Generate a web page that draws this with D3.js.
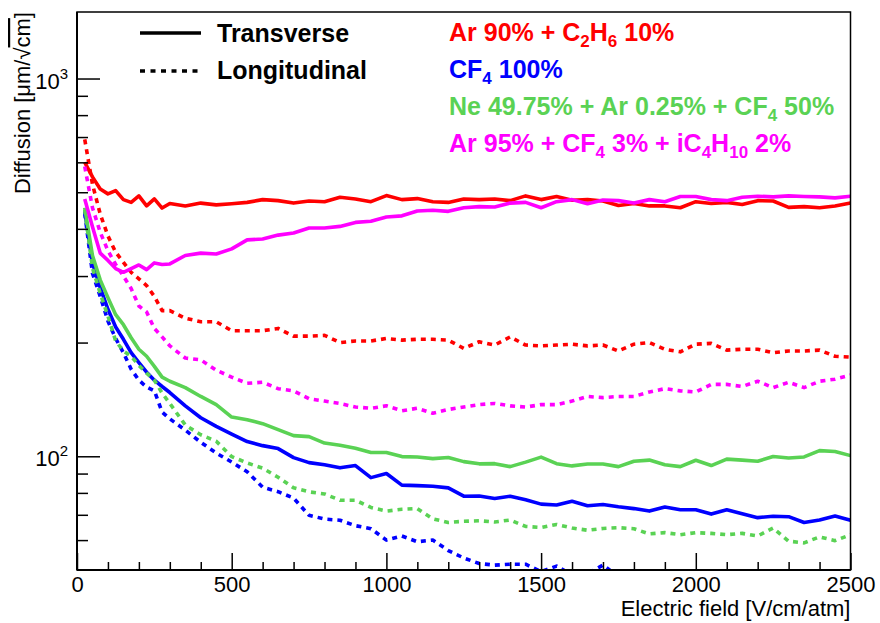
<!DOCTYPE html>
<html>
<head>
  <meta charset="UTF-8">
  <title>Diffusion vs Electric field</title>
  <style>
    body { margin: 0; background: #fff; }
    svg { font-family: "Liberation Sans", Arial, Helvetica, sans-serif; }
  </style>
</head>
<body>

  <svg id="chart" width="880" height="623"></svg>

  <script src="https://cdn.jsdelivr.net/npm/d3@7/dist/d3.min.js"></script>
  <script>

    // electric field points [V/cm/atm], shared by every curve
    var field = [25, 50, 75, 100, 125, 150, 175, 200, 225, 250, 275, 300,
      350, 400, 450, 500, 550, 600, 650, 700, 750, 800, 850, 900, 950, 1000,
      1050, 1100, 1150, 1200, 1250, 1300, 1350, 1400, 1450, 1500, 1550, 1600,
      1650, 1700, 1750, 1800, 1850, 1900, 1950, 2000, 2050, 2100, 2150, 2200,
      2250, 2300, 2350, 2400, 2450, 2500];

    // Ar 90% + C2H6 10%
    var arEthTrans = [600, 549, 510, 495, 505, 478, 470, 489, 460, 480, 454, 467,
      460, 468, 463, 466, 470, 478, 475, 468, 474, 472, 485, 480, 472, 490,
      478, 481, 472, 470, 480, 478, 480, 475, 489, 478, 487, 476, 478, 474,
      461, 467, 460, 460, 455, 472, 467, 470, 464, 475, 474, 456, 458, 455, 460, 468];
    var arEthLong = [690, 525, 438, 383, 347, 326, 307, 295, 283, 265, 243, 243,
      232, 227, 227, 215, 215, 215, 218, 208, 208, 209, 200, 202, 202, 205,
      203, 204, 204, 203, 193, 201, 197, 207, 197, 196, 197, 198, 196, 197,
      190, 198, 200, 192, 189, 198, 199, 191, 192, 192, 188, 190, 190, 191, 184, 183];

    // CF4 100%
    var cf4Trans = [445, 325, 280, 245, 220, 204, 188, 177, 167, 159, 153, 147.5,
      136, 126.5, 120, 114.5, 109.4, 106.7, 104.8, 99.2, 96.2, 95, 93.2, 94.5, 87.8, 90,
      83.9, 83.6, 83.3, 82.5, 78.4, 78.5, 77.3, 78.4, 76.7, 74.7, 74.3, 76, 74, 74.5,
      73.5, 72.7, 71.6, 73.4, 72.2, 72.2, 70.3, 72.2, 70.5, 68.8, 69.4, 69.2, 66.8, 67.8, 69.5, 67.7];
    var cf4Long = [440, 305, 265, 228, 205, 188, 170, 159, 152.5, 149, 131, 125.6,
      117.3, 108.9, 102, 96.5, 91, 82.8, 80.6, 77.5, 69.8, 68.2, 67.7, 65.5, 64.3, 60,
      61.5, 59.4, 60, 56.3, 53.8, 52, 51.5, 51.8, 51.8, 49.5, 51.2, 48.5, 48.8, 51.5,
      48, 47.5, 47.8, 47.2, 47.5, 47, 47.3, 46.8, 47, 46.5, 46.8, 46.2, 46.5, 46, 46.3, 46];

    // Ne 49.75% + Ar 0.25% + CF4 50%
    var neTrans = [455, 340, 293, 263, 237, 223, 206, 192, 184, 173, 162, 158,
      152, 144, 137, 127, 125, 122, 117.6, 113.4, 112.7, 108.4, 107, 105, 102.3, 102.3,
      99.8, 99.6, 98.6, 99.3, 96.8, 95.5, 95.6, 93.9, 96.5, 99.5, 95.6, 94.3, 95.4, 95.4,
      93.9, 97, 97.7, 95, 93.9, 97.6, 94.5, 98.3, 97.7, 97, 99.9, 99, 99.6, 103.5, 103, 100.4];
    var neLong = [450, 315, 270, 235, 202, 190, 184, 174, 166, 159, 147, 138,
      121, 114, 109.6, 99.8, 96, 93, 88, 82.5, 80.5, 79.5, 76.5, 76.5, 73.2, 71.6,
      72.4, 72.7, 68.3, 66.8, 67.3, 67.5, 67, 67.8, 65.2, 64.8, 66, 64.6, 63.7, 64.4,
      64.7, 64.3, 62.3, 62.8, 62, 62.8, 62.5, 62, 62.5, 61.5, 64.6, 59.6, 59, 61.2, 59.8, 62];

    // Ar 95% + CF4 3% + iC4H10 2%
    var arCf4Trans = [480, 405, 345, 330, 314, 307, 314, 321, 312, 325, 322, 323,
      340, 345, 343, 354, 374, 376, 385, 390, 402, 402, 406, 416, 419, 430,
      433, 446, 448, 445, 455, 458, 457, 468, 470, 455, 472, 478, 466, 477,
      475, 468, 478, 472, 487, 487, 478, 475, 485, 488, 486, 489, 487, 486, 483, 488];
    var arCf4Long = [585, 455, 392, 350, 322, 300, 278, 250, 241, 218, 207, 196,
      182, 180, 169, 162, 156, 157, 151, 149, 142, 140, 138, 135, 134, 136,
      132, 134, 130, 133, 135, 137, 138, 136, 135, 137, 137, 140, 144, 143,
      144, 144, 148, 151, 149, 148, 155, 155, 153, 158, 152, 157, 152, 158, 160, 164];

    var xTicks = [0, 500, 1000, 1500, 2000, 2500];
    var yTicks = [100, 1000];

    var gasColors = ["#ff0000", "#0000ff", "#5ad254", "#ff00ff"];

    // label pieces: [text, is subscript]
    var gasLabels = [
      [["Ar 90% + C", 0], ["2", 1], ["H", 0], ["6", 1], [" 10%", 0]],
      [["CF", 0], ["4", 1], [" 100%", 0]],
      [["Ne 49.75% + Ar 0.25% + CF", 0], ["4", 1], [" 50%", 0]],
      [["Ar 95% + CF", 0], ["4", 1], [" 3% + iC", 0], ["4", 1], ["H", 0], ["10", 1], [" 2%", 0]]
    ];

    var series = [
      {values: arEthTrans, gas: 0, dotted: false},
      {values: arEthLong, gas: 0, dotted: true},
      {values: cf4Trans, gas: 1, dotted: false},
      {values: cf4Long, gas: 1, dotted: true},
      {values: neTrans, gas: 2, dotted: false},
      {values: neLong, gas: 2, dotted: true},
      {values: arCf4Trans, gas: 3, dotted: false},
      {values: arCf4Long, gas: 3, dotted: true}
    ];

    var svg = d3.select("#chart"),
      margin = {top: 12, right: 29.5, bottom: 53, left: 77},
      width = +svg.attr("width") - margin.left - margin.right,
      height = +svg.attr("height") - margin.top - margin.bottom,
      g = svg.append("g").attr("transform", "translate(" + margin.left + "," + margin.top + ")");

    var x = d3.scaleLinear().domain([0, 2500]).range([0, width]);
    var y = d3.scaleLog().domain([50, 1500]).range([height, 0]);

    svg.append("clipPath").attr("id", "plot-clip")
      .append("rect").attr("width", width).attr("height", height);

    // curves
    var line = d3.line()
      .defined(function(d) { return d[1] != null; })
      .x(function(d) { return x(d[0]); })
      .y(function(d) { return y(d[1]); });

    g.append("g")
        .attr("clip-path", "url(#plot-clip)")
      .selectAll("path")
      .data(series)
      .enter().append("path")
        .attr("fill", "none")
        .attr("stroke", function(s) { return gasColors[s.gas]; })
        .attr("stroke-width", 3.6)
        .attr("stroke-linejoin", "round")
        .attr("stroke-dasharray", function(s) { return s.dotted ? "5,5" : null; })
        .attr("d", function(s) { return line(field.map(function(f, i) { return [f, s.values[i]]; })); });

    // frame
    g.append("rect")
      .attr("width", width).attr("height", height)
      .attr("fill", "none").attr("stroke", "#000").attr("stroke-width", 1.5);

    // x axis: major ticks every 500, minor every 100, drawn inward
    var xMinor = d3.range(0, 2501, 100).filter(function(v) { return v % 500 != 0; });
    g.append("g")
        .attr("transform", "translate(0," + height + ")")
        .call(d3.axisBottom(x).tickValues(xMinor).tickSize(-8).tickFormat(""))
        .call(function(a) { a.select(".domain").remove(); });
    g.append("g")
        .attr("class", "axis axis--x")
        .attr("transform", "translate(0," + height + ")")
        .call(d3.axisBottom(x).tickValues(xTicks).tickSize(-17).tickPadding(6).tickFormat(d3.format("d")))
        .call(function(a) { a.select(".domain").remove(); });

    // y axis: log scale, decades plus 2..9 minor
    var yMinor = [60, 70, 80, 90, 200, 300, 400, 500, 600, 700, 800, 900];
    g.append("g")
        .call(d3.axisLeft(y).tickValues(yMinor).tickSize(-11).tickFormat(""))
        .call(function(a) { a.select(".domain").remove(); });
    g.append("g")
        .call(d3.axisLeft(y).tickValues(yTicks).tickSize(-23).tickFormat(""))
        .call(function(a) { a.select(".domain").remove(); });

    g.selectAll(".tick line").attr("stroke-width", 1.5);
    g.selectAll(".axis--x text")
        .attr("font-size", 22)
        .attr("font-family", "'Liberation Sans', Arial, sans-serif")
        .attr("fill", "#000");

    // 10^n labels
    var yLab = g.selectAll(".ylab")
      .data(yTicks)
      .enter().append("text")
        .attr("class", "ylab")
        .attr("x", -9)
        .attr("y", function(d) { return y(d) + 10; })
        .attr("text-anchor", "end")
        .attr("font-size", 22);
    yLab.append("tspan").text("10");
    yLab.append("tspan")
        .attr("font-size", 15)
        .attr("dy", -10)
        .text(function(d) { return Math.round(Math.log10(d)); });

    // axis lines (a bit heavier than the frame)
    g.append("line").attr("x1", 0).attr("x2", 0).attr("y1", 0).attr("y2", height)
      .attr("stroke", "#000").attr("stroke-width", 2);
    g.append("line").attr("x1", 0).attr("x2", width).attr("y1", height).attr("y2", height)
      .attr("stroke", "#000").attr("stroke-width", 2);

    // axis titles
    svg.append("text")
      .attr("x", margin.left + width)
      .attr("y", 616)
      .attr("text-anchor", "end")
      .attr("font-size", 22)
      .text("Electric field [V/cm/atm]");

    var yTitle = svg.append("text")
      .attr("transform", "translate(30," + margin.top + ") rotate(-90)")
      .attr("text-anchor", "end")
      .attr("font-size", 22);
    yTitle.append("tspan").text("Diffusion [\u03bcm/\u221a");
    yTitle.append("tspan").style("text-decoration", "overline").text("cm");
    yTitle.append("tspan").text("]");

    // legend for line styles
    var styleLegend = svg.selectAll(".style-legend")
      .data([["Transverse", false, 33, 42], ["Longitudinal", true, 71, 79]])
      .enter().append("g")
        .attr("class", "style-legend");

    styleLegend.append("line")
        .attr("x1", 140).attr("x2", 201)
        .attr("y1", function(d) { return d[2]; })
        .attr("y2", function(d) { return d[2]; })
        .attr("stroke", "#000")
        .attr("stroke-width", 3.6)
        .attr("stroke-dasharray", function(d) { return d[1] ? "5,5.5" : null; });

    styleLegend.append("text")
        .attr("x", 217)
        .attr("y", function(d) { return d[3]; })
        .attr("font-size", 25)
        .attr("font-weight", "bold")
        .text(function(d) { return d[0]; });

    // gas mixture labels
    var gasText = svg.selectAll(".gas")
      .data(gasLabels)
      .enter().append("text")
        .attr("class", "gas")
        .attr("x", 449)
        .attr("y", function(d, i) { return 40.7 + i * 37; })
        .attr("font-size", 25)
        .attr("font-weight", "bold")
        .attr("fill", function(d, i) { return gasColors[i]; });

    gasText.each(function(parts) {
      var t = d3.select(this), shifted = false;
      parts.forEach(function(p) {
        var span = t.append("tspan").text(p[0]);
        if (p[1]) {
          span.attr("font-size", 17).attr("dy", 6);
          shifted = true;
        } else if (shifted) {
          span.attr("dy", -6);
          shifted = false;
        }
      });
    });

  </script>

</body>
</html>
